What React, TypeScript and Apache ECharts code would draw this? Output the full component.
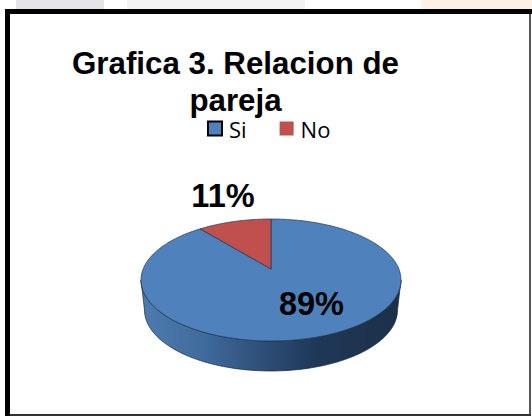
import React, { useEffect, useRef } from "react";
import * as echarts from "echarts";

const categories = ["Si", "No"];
const values = [89, 11];
const titleText = "Grafica 3. Relacion de\npareja";
const colors = ["#4f81bd", "#c0504d"];

const total = values.reduce((a, b) => a + b, 0);
const CX = 271, CY = 280, RX = 130, RY = 61, APEX_Y = 269, DEPTH = 30, BOTTOM_RX = 126.5;

// Perspective projection: ray from the off-centre apex to the top ellipse.
function rim(share: number): number[] {
  const th = share * Math.PI * 2;
  const dx = Math.sin(th) * RX;
  const dy = -Math.cos(th) * RY;
  const oy = APEX_Y - CY;
  const a = (dx * dx) / (RX * RX) + (dy * dy) / (RY * RY);
  const b = (2 * oy * dy) / (RY * RY);
  const c = (oy * oy) / (RY * RY) - 1;
  const t = (-b + Math.sqrt(b * b - 4 * a * c)) / (2 * a);
  return [CX + dx * t, APEX_Y + dy * t];
}

function sector(from: number, to: number): number[][] {
  const pts: number[][] = [[CX, APEX_Y]];
  const n = Math.max(4, Math.round((to - from) * 360));
  for (let i = 0; i <= n; i++) pts.push(rim(from + ((to - from) * i) / n));
  return pts;
}

function wall(): number[][] {
  const pts: number[][] = [];
  for (let i = 0; i <= 180; i += 2) {
    const a = (i * Math.PI) / 180;
    pts.push([CX + RX * Math.cos(a), CY + RY * Math.sin(a)]);
  }
  for (let i = 180; i >= 0; i -= 2) {
    const a = (i * Math.PI) / 180;
    pts.push([CX + BOTTOM_RX * Math.cos(a), CY + DEPTH + RY * Math.sin(a)]);
  }
  return pts;
}

export default function App() {
  const ref = useRef<HTMLDivElement>(null);
  useEffect(() => {
    const chart = echarts.init(ref.current!, undefined, { renderer: "svg" });
    const wallFill = new echarts.graphic.LinearGradient(0, 0, 1, 0, [
      { offset: 0, color: "#4e7cb0" },
      { offset: 0.25, color: "#3f6a9b" },
      { offset: 0.5, color: "#2b4b72" },
      { offset: 0.68, color: "#1f3757" },
      { offset: 1, color: "#1c3047" },
    ]);
    const labelPos = [
      [311.5, 303.5],
      [223, 195.5],
    ];
    const shares = [0, values[0] / total, 1];
    const makeSeries = (idx: number) => ({
      type: "custom",
      name: categories[idx],
      coordinateSystem: "none",
      data: [values[idx]],
      itemStyle: { color: colors[idx] },
      silent: true,
      z: 2 + idx,
      renderItem: (_p: any, api: any) => {
        const children: any[] = [];
        if (idx === 0) {
          children.push({
            type: "polygon",
            shape: { points: wall() },
            style: { fill: wallFill, stroke: "#16263b", lineWidth: 0.7 },
          });
        }
        children.push({
          type: "polygon",
          shape: { points: sector(shares[idx], shares[idx + 1]) },
          style: { fill: colors[idx], stroke: "#23344c", lineWidth: 0.7 },
        });
        children.push({
          type: "text",
          z2: 10,
          style: {
            text: `${api.value(0)}%`,
            x: labelPos[idx][0],
            y: labelPos[idx][1],
            align: "center",
            verticalAlign: "middle",
            fill: "#000",
            font: 'bold 32.5px "Liberation Sans"',
          },
        });
        return { type: "group", children };
      },
    });
    chart.setOption({
      animation: false,
      backgroundColor: "#ffffff",
      title: {
        text: titleText,
        left: 230.5,
        top: 40,
        textAlign: "center",
        textStyle: {
          fontFamily: "Liberation Sans",
          fontWeight: "bold",
          fontSize: 31.3,
          lineHeight: 37,
          color: "#000",
        },
      },
      legend: {
        left: 202,
        top: 112.5,
        itemWidth: 14,
        itemHeight: 14,
        itemGap: 33,
        selectedMode: false,
        textStyle: { fontFamily: "Open Sans", fontSize: 22, color: "#000", padding: [0, 0, 0, 2] },
        data: [
          { name: categories[0], icon: "rect", itemStyle: { color: colors[0], borderColor: "#000", borderWidth: 2 } },
          { name: categories[1], icon: "rect", itemStyle: { color: colors[1], borderWidth: 0 } },
        ],
      },
      graphic: [
        { type: "rect", z: -10, shape: { x: 16, y: 0, width: 88, height: 9 }, style: { fill: "#e4e4e9" } },
        { type: "rect", z: -10, shape: { x: 127, y: 0, width: 178, height: 9 }, style: { fill: "#f3f3f6" } },
        { type: "rect", z: -10, shape: { x: 421, y: 0, width: 111, height: 9 }, style: { fill: "#fdf1e6" } },
        { type: "rect", z: -10, shape: { x: 5, y: 9, width: 527, height: 5 }, style: { fill: "#000" } },
        { type: "rect", z: -10, shape: { x: 5, y: 9, width: 5, height: 407 }, style: { fill: "#000" } },
        { type: "rect", z: -10, shape: { x: 529, y: 14, width: 2, height: 402 }, style: { fill: "#555" } },
        { type: "rect", z: -10, shape: { x: 10, y: 414, width: 521, height: 2 }, style: { fill: "#333" } },
      ],
      series: [makeSeries(0), makeSeries(1)],
    });
    return () => chart.dispose();
  }, []);
  return <div ref={ref} style={{ position: "fixed", left: 0, top: 0, width: 532, height: 416 }} />;
}
